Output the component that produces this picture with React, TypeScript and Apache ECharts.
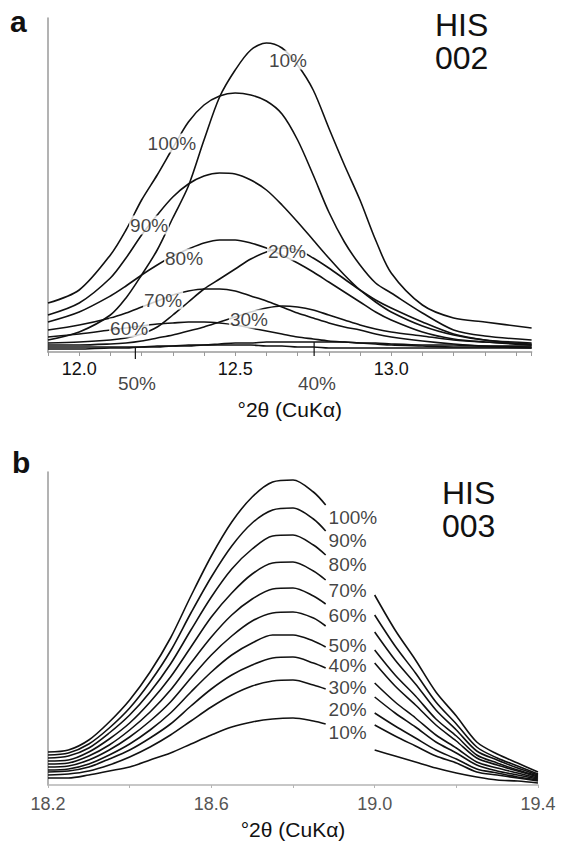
import React, { useEffect, useRef } from 'react';
import * as echarts from 'echarts';

// ---------- Panel a : HIS 002 ----------
const xA = [11.90, 12.00, 12.10, 12.15, 12.20, 12.25, 12.30, 12.35, 12.40, 12.45, 12.50, 12.55, 12.60,
  12.65, 12.70, 12.75, 12.80, 12.85, 12.90, 12.95, 13.00, 13.10, 13.20, 13.30, 13.45];
const namesA = ['10%', '100%', '90%', '80%', '70%', '60%', '20%', '30%', '40%', '50%'];
const a10 = [12, 20, 37, 54, 77, 102, 134, 166, 212, 255, 282, 302, 309, 304, 287, 262, 224, 187, 152, 112, 79, 47, 34, 30, 24];
const a100 = [49, 62, 97, 122, 152, 177, 204, 230, 247, 256, 259, 257, 251, 238, 212, 177, 140, 110, 87, 69, 59, 39, 22, 16, 12];
const a90 = [37, 49, 74, 94, 117, 137, 155, 168, 176, 179, 178, 172, 162, 147, 130, 112, 94, 77, 62, 50, 40, 26, 17, 12, 9];
const a80 = [30, 40, 56, 66, 77, 87, 96, 103, 109, 112, 112, 109, 104, 97, 89, 80, 70, 60, 50, 40, 32, 20, 13, 10, 7];
const a70 = [22, 27, 34, 39, 45, 51, 57, 61, 63, 63, 61, 56, 51, 45, 39, 34, 29, 25, 22, 18, 15, 11, 8, 6, 5];
const a60 = [15, 18, 22, 24, 26, 28, 29, 30, 30, 29, 27, 24, 21, 18, 15, 13, 11, 10, 9, 8, 7, 6, 5, 5, 4];
const a20 = [9, 10, 12, 14, 18, 25, 37, 50, 63, 73, 83, 93, 100, 104, 102, 94, 84, 73, 62, 52, 44, 30, 18, 12, 7];
const a30 = [7, 7, 8, 9, 11, 14, 17, 21, 25, 30, 35, 40, 44, 46, 45, 42, 37, 32, 27, 23, 20, 16, 12, 10, 8];
const a40 = [5, 5, 5, 5, 5, 6, 6, 7, 7, 8, 9, 9, 10, 10, 10, 10, 10, 10, 9, 9, 8, 7, 7, 6, 6];
const a50 = [3, 3, 4, 4, 5, 5, 6, 6, 7, 7, 7, 7, 6, 6, 5, 5, 4, 4, 4, 4, 4, 4, 4, 4, 4];
const curvesA = [a10, a100, a90, a80, a70, a60, a20, a30, a40, a50];

// curve labels of panel a (anchor in data units)
const labelA = ['10%', '100%', '90%', '80%', '70%', '60%', '20%', '30%', '50%', '40%'];
const labelAX = [12.669, 12.297, 12.224, 12.336, 12.269, 12.160, 12.666, 12.544, 12.185, 12.762];
const labelAY = [292, 209, 127, 94, 52, 24, 101, 33, -31, -31];
// pointer ticks for the flat 50% and 40% curves
const pointerX = [12.18, 12.753];
const pointerTop = [5, 10];
const pointerBottom = [-7, -4];

// ---------- Panel b : HIS 003 ----------
const xBL = [18.20, 18.25, 18.30, 18.35, 18.40, 18.45, 18.50, 18.55, 18.60, 18.65, 18.70, 18.75, 18.80, 18.85, 18.88];
const xBR = [19.00, 19.05, 19.10, 19.15, 19.20, 19.25, 19.30, 19.35, 19.40];
const namesB = ['100%', '90%', '80%', '70%', '60%', '50%', '40%', '30%', '20%', '10%'];
const b100L = [33, 35, 45, 63, 85, 113, 147, 189, 229, 263, 288, 303, 305, 293, 280];
const b100R = [190, 155, 125, 93, 69, 43, 31, 22, 13];
const b90L = [30, 32, 41, 57, 77, 103, 134, 172, 208, 239, 262, 275, 277, 266, 254];
const b90R = [170, 139, 112, 83, 61, 38, 27, 19, 11];
const b80L = [27, 29, 37, 52, 70, 93, 121, 155, 188, 216, 236, 249, 250, 240, 230];
const b80R = [153, 125, 101, 75, 55, 34, 25, 17, 10];
const b70L = [24, 25, 33, 46, 62, 83, 108, 138, 168, 192, 211, 222, 223, 214, 205];
const b70R = [135, 110, 89, 66, 49, 30, 22, 15, 9];
const b60L = [21, 22, 29, 40, 55, 73, 95, 122, 148, 170, 186, 196, 197, 189, 181];
const b60R = [122, 99, 80, 60, 44, 27, 20, 14, 8];
const b50L = [18, 19, 25, 35, 48, 64, 83, 107, 130, 149, 164, 172, 173, 167, 159];
const b50R = [102, 83, 67, 50, 37, 23, 17, 12, 7];
const b40L = [15, 16, 21, 30, 41, 55, 72, 93, 113, 130, 142, 150, 150, 144, 138];
const b40R = [88, 72, 58, 43, 32, 20, 14, 10, 6];
const b30L = [13, 14, 18, 26, 35, 47, 61, 79, 96, 110, 120, 127, 128, 122, 117];
const b30R = [72, 59, 47, 35, 26, 16, 12, 8, 5];
const b20L = [10, 11, 14, 20, 28, 38, 50, 64, 78, 90, 99, 104, 105, 100, 96];
const b20R = [60, 49, 39, 29, 22, 13, 10, 7, 4];
const b10L = [7, 7, 10, 14, 18, 25, 32, 41, 50, 58, 63, 66, 67, 64, 61];
const b10R = [35, 29, 23, 17, 12, 8, 5, 4, 2];
const curvesBL = [b100L, b90L, b80L, b70L, b60L, b50L, b40L, b30L, b20L, b10L];
const curvesBR = [b100R, b90R, b80R, b70R, b60R, b50R, b40R, b30R, b20R, b10R];
const labelBX = 18.886;
const labelBY = [268, 245, 221, 195, 170, 140, 120, 98, 76, 53];
const gapX = 18.94;

const FONT = 'Arial, "Liberation Sans", Helvetica, sans-serif';
const AXIS_TITLE = '°2θ (CuKα)';

export default function App() {
  const ref = useRef<HTMLDivElement>(null);

  useEffect(() => {
    if (!ref.current) return;
    const chart = echarts.init(ref.current, null, { renderer: 'svg' });
    const lineStyle = { color: '#111', width: 1.6 };

    const seriesA: any[] = curvesA.map((ys, k) => ({
      type: 'line',
      name: 'a ' + namesA[k],
      xAxisIndex: 0,
      yAxisIndex: 0,
      data: xA.map((x, i) => [x, ys[i]]),
      symbol: 'none',
      smooth: 0.3,
      lineStyle,
      silent: true,
      z: 2,
    }));

    const pointers: any[] = pointerX.map((x, i) => ({
      type: 'line',
      xAxisIndex: 0,
      yAxisIndex: 0,
      data: [[x, pointerTop[i]], [x, pointerBottom[i]]],
      symbol: 'none',
      clip: false,
      lineStyle: { color: '#111', width: 1.2 },
      silent: true,
      z: 3,
    }));

    const labelsA = {
      type: 'scatter',
      xAxisIndex: 0,
      yAxisIndex: 0,
      clip: false,
      symbol: 'circle',
      symbolSize: 1,
      itemStyle: { color: 'rgba(0,0,0,0)' },
      data: labelA.map((t, i) => ({ name: t, value: [labelAX[i], labelAY[i]] })),
      label: {
        show: true,
        position: 'inside',
        formatter: '{b}',
        fontSize: 19,
        fontFamily: FONT,
        color: '#111',
        backgroundColor: '#fff',
        padding: [0, 1],
      },
      silent: true,
      z: 10,
    };

    const seriesB: any[] = curvesBL.map((left, k) => ({
      type: 'line',
      name: 'b ' + namesB[k],
      xAxisIndex: 1,
      yAxisIndex: 1,
      data: [
        ...xBL.map((x, i) => [x, left[i]]),
        [gapX, '-'],
        ...xBR.map((x, i) => [x, curvesBR[k][i]]),
      ],
      symbol: 'none',
      smooth: 0.3,
      connectNulls: false,
      lineStyle,
      silent: true,
      z: 2,
    }));

    const labelsB = {
      type: 'scatter',
      xAxisIndex: 1,
      yAxisIndex: 1,
      clip: false,
      symbol: 'circle',
      symbolSize: 1,
      itemStyle: { color: 'rgba(0,0,0,0)' },
      data: namesB.map((t, i) => ({ name: t, value: [labelBX, labelBY[i]] })),
      label: {
        show: true,
        position: 'right',
        distance: 0,
        formatter: '{b}',
        fontSize: 19,
        fontFamily: FONT,
        color: '#111',
      },
      silent: true,
      z: 10,
    };

    chart.setOption({
      animation: false,
      backgroundColor: '#fff',
      grid: [
        { left: 48, top: 18, width: 483.6, height: 334 },
        { left: 48, top: 472, width: 490, height: 313 },
      ],
      xAxis: [
        {
          gridIndex: 0,
          type: 'value',
          min: 11.9,
          max: 13.45,
          interval: 0.1,
          axisLine: { show: true, onZero: false, lineStyle: { color: '#9a9a9a', width: 1.5 } },
          axisTick: { show: true, length: 4, lineStyle: { color: '#9a9a9a' } },
          axisLabel: {
            formatter: (v: number) => {
              const t = Math.round(v * 10);
              return t === 120 || t === 125 || t === 130 ? (t / 10).toFixed(1) : '';
            },
            fontSize: 18,
            fontFamily: FONT,
            color: '#111',
            margin: 8,
          },
          splitLine: { show: false },
          name: AXIS_TITLE,
          nameLocation: 'middle',
          nameGap: 47,
          nameTextStyle: { fontSize: 21, fontFamily: FONT, color: '#111' },
        },
        {
          gridIndex: 1,
          type: 'value',
          min: 18.2,
          max: 19.4,
          interval: 0.2,
          axisLine: { show: true, onZero: false, lineStyle: { color: '#b5b5b5', width: 1.5 } },
          axisTick: { show: true, length: 3, lineStyle: { color: '#b5b5b5' } },
          axisLabel: {
            formatter: (v: number) => {
              const t = Math.round(v * 10);
              return (t - 182) % 4 === 0 ? (t / 10).toFixed(1) : '';
            },
            fontSize: 18,
            fontFamily: FONT,
            color: '#555',
            margin: 10,
          },
          splitLine: { show: false },
          name: AXIS_TITLE,
          nameLocation: 'middle',
          nameGap: 34,
          nameTextStyle: { fontSize: 21, fontFamily: FONT, color: '#111' },
        },
      ],
      yAxis: [
        {
          gridIndex: 0,
          type: 'value',
          min: 0,
          max: 334,
          axisLine: { show: true, lineStyle: { color: '#9a9a9a', width: 1.5 } },
          axisTick: { show: false },
          axisLabel: { show: false },
          splitLine: { show: false },
        },
        {
          gridIndex: 1,
          type: 'value',
          min: 0,
          max: 313,
          axisLine: { show: true, lineStyle: { color: '#9a9a9a', width: 1.5 } },
          axisTick: { show: false },
          axisLabel: { show: false },
          splitLine: { show: false },
        },
      ],
      series: [...seriesA, ...pointers, labelsA, ...seriesB, labelsB],
      graphic: [
        { type: 'text', left: 10, top: 6, style: { text: 'a', font: 'bold 30px ' + FONT, fill: '#111' } },
        { type: 'text', left: 12, top: 447, style: { text: 'b', font: 'bold 30px ' + FONT, fill: '#111' } },
        {
          type: 'text', left: 435, top: 8,
          style: { text: 'HIS\n002', font: '32px ' + FONT, lineHeight: 33, fill: '#111' },
        },
        {
          type: 'text', left: 442, top: 476,
          style: { text: 'HIS\n003', font: '32px ' + FONT, lineHeight: 33, fill: '#111' },
        },
      ],
    });

    return () => chart.dispose();
  }, []);

  return (
    <div
      ref={ref}
      style={{ position: 'fixed', left: 0, top: 0, width: 570, height: 847, background: '#fff' }}
    />
  );
}
